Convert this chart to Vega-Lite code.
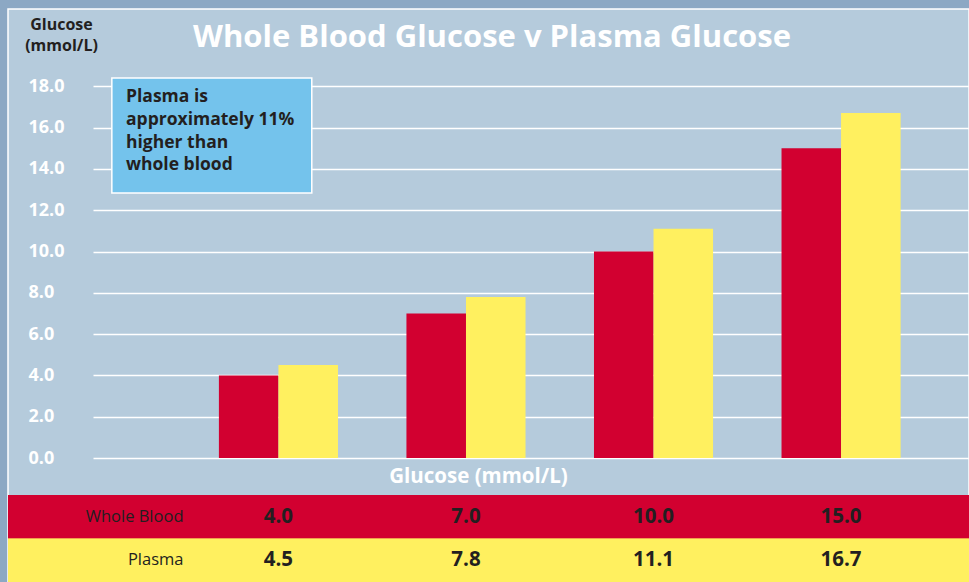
{
  "$schema": "https://vega.github.io/schema/vega-lite/v6.json",
  "width": 969,
  "height": 582,
  "autosize": {"type": "fit", "contains": "padding"},
  "padding": {"left": 8, "top": 9, "right": 0, "bottom": 0},
  "background": "#8ca8c4",
  "config": {
    "view": {"fill": "#b5cbdc", "stroke": "#ffffff", "strokeWidth": 1.5},
    "font": "Open Sans"
  },
  "data": {
    "values": [
      {"level": "4.0", "series": "Whole Blood", "value": 4.0},
      {"level": "4.0", "series": "Plasma", "value": 4.5},
      {"level": "7.0", "series": "Whole Blood", "value": 7.0},
      {"level": "7.0", "series": "Plasma", "value": 7.8},
      {"level": "10.0", "series": "Whole Blood", "value": 10.0},
      {"level": "10.0", "series": "Plasma", "value": 11.1},
      {"level": "15.0", "series": "Whole Blood", "value": 15.0},
      {"level": "15.0", "series": "Plasma", "value": 16.7}
    ]
  },
  "layer": [
    {
      "layer": [
        {
          "mark": {"type": "bar"},
          "encoding": {
            "x": {
              "field": "level",
              "type": "nominal",
              "sort": ["4.0", "7.0", "10.0", "15.0"],
              "scale": {"range": [85, 961], "paddingInner": 0.365, "paddingOuter": 0.518, "align": 0.648},
              "axis": {
                "labels": false, "ticks": false, "domain": false, "grid": false,
                "title": "Glucose (mmol/L)", "titleColor": "#ffffff", "titleFontSize": 20.5,
                "titleFontWeight": "bold", "titleX": 470, "titleY": -106,
                "titleBaseline": "middle", "titleAlign": "center"
              }
            },
            "xOffset": {
              "field": "series",
              "type": "nominal",
              "sort": ["Whole Blood", "Plasma"],
              "scale": {"paddingInner": 0, "paddingOuter": 0}
            },
            "y": {
              "field": "value",
              "type": "quantitative",
              "scale": {"domain": [-6.0, 21.74], "nice": false, "zero": false},
              "axis": {
                "values": [0, 2, 4, 6, 8, 10, 12, 14, 16, 18],
                "format": ".1f",
                "labelColor": "#ffffff", "labelFontSize": 18, "labelFontWeight": "bold",
                "labelAlign": "left", "labelBaseline": "middle", "labelPadding": 0,
                "ticks": false, "tickSize": 0, "domain": false, "offset": -20,
                "grid": true, "gridColor": "#ffffff", "gridWidth": 1.5, "gridOpacity": 1,
                "title": ["Glucose", "(mmol/L)"], "titleColor": "#231f20", "titleFontSize": 16,
                "titleFontWeight": "bold", "titleAngle": 0, "titleAlign": "center",
                "titleBaseline": "top", "titleX": 33, "titleY": 7, "titleLineHeight": 21
              }
            },
            "color": {
              "field": "series",
              "type": "nominal",
              "scale": {"domain": ["Whole Blood", "Plasma"], "range": ["#d20030", "#fff05f"]},
              "legend": null
            }
          }
        },
        {
          "data": {"values": [{}]},
          "mark": {"type": "rect", "fill": "#74c3ec", "stroke": "#ffffff", "strokeWidth": 1.5},
          "encoding": {
            "x": {"datum": "4.0", "bandPosition": -0.899},
            "x2": {"datum": "4.0", "bandPosition": 0.78},
            "y": {"datum": 18.4},
            "y2": {"datum": 12.83}
          }
        },
        {
          "data": {"values": [{}]},
          "mark": {
            "type": "text", "align": "left", "baseline": "alphabetic",
            "fontSize": 17.5, "fontWeight": "bold", "color": "#231f20", "lineHeight": 22.7,
            "text": ["Plasma is", "approximately 11%", "higher than", "whole blood"]
          },
          "encoding": {
            "x": {"datum": "4.0", "bandPosition": -0.78},
            "y": {"datum": 17.23}
          }
        },
        {
          "data": {"values": [{}]},
          "mark": {
            "type": "text", "align": "center", "baseline": "alphabetic", "dx": 3.5,
            "fontSize": 31, "fontWeight": "bold", "color": "#ffffff",
            "text": "Whole Blood Glucose v Plasma Glucose"
          },
          "encoding": {
            "y": {"datum": 19.9}
          }
        }
      ]
    },
    {
      "layer": [
        {
          "mark": {"type": "rect"},
          "encoding": {
            "y": {
              "field": "series",
              "type": "nominal",
              "sort": ["Whole Blood", "Plasma"],
              "scale": {"range": [486, 573], "paddingInner": 0, "paddingOuter": 0},
              "axis": {
                "orient": "left", "offset": -175, "labelAlign": "right", "labelPadding": 0,
                "tickSize": 0, "ticks": false, "domain": false, "grid": false, "title": null,
                "labelColor": "#231f20", "labelFontSize": 16.5, "labelFontWeight": "normal",
                "labelBaseline": "middle"
              }
            },
            "color": {
              "field": "series",
              "type": "nominal",
              "scale": {"domain": ["Whole Blood", "Plasma"], "range": ["#d20030", "#fff05f"]},
              "legend": null
            }
          }
        },
        {
          "mark": {"type": "text", "fontSize": 20.5, "fontWeight": "bold", "color": "#231f20", "baseline": "middle"},
          "encoding": {
            "x": {
              "field": "level",
              "type": "nominal",
              "sort": ["4.0", "7.0", "10.0", "15.0"],
              "scale": {"range": [85, 961], "paddingInner": 0.365, "paddingOuter": 0.518, "align": 0.648},
              "axis": {
                "labels": false, "ticks": false, "domain": false, "grid": false,
                "title": "Glucose (mmol/L)", "titleColor": "#ffffff", "titleFontSize": 20.5,
                "titleFontWeight": "bold", "titleX": 470, "titleY": -106,
                "titleBaseline": "middle", "titleAlign": "center"
              }
            },
            "y": {
              "field": "series",
              "type": "nominal",
              "sort": ["Whole Blood", "Plasma"],
              "scale": {"range": [486, 573], "paddingInner": 0, "paddingOuter": 0},
              "axis": {
                "orient": "left", "offset": -175, "labelAlign": "right", "labelPadding": 0,
                "tickSize": 0, "ticks": false, "domain": false, "grid": false, "title": null,
                "labelColor": "#231f20", "labelFontSize": 16.5, "labelFontWeight": "normal",
                "labelBaseline": "middle"
              }
            },
            "text": {"field": "value", "type": "quantitative", "format": ".1f"}
          }
        }
      ]
    }
  ],
  "resolve": {"scale": {"y": "independent"}, "axis": {"y": "independent"}}
}
